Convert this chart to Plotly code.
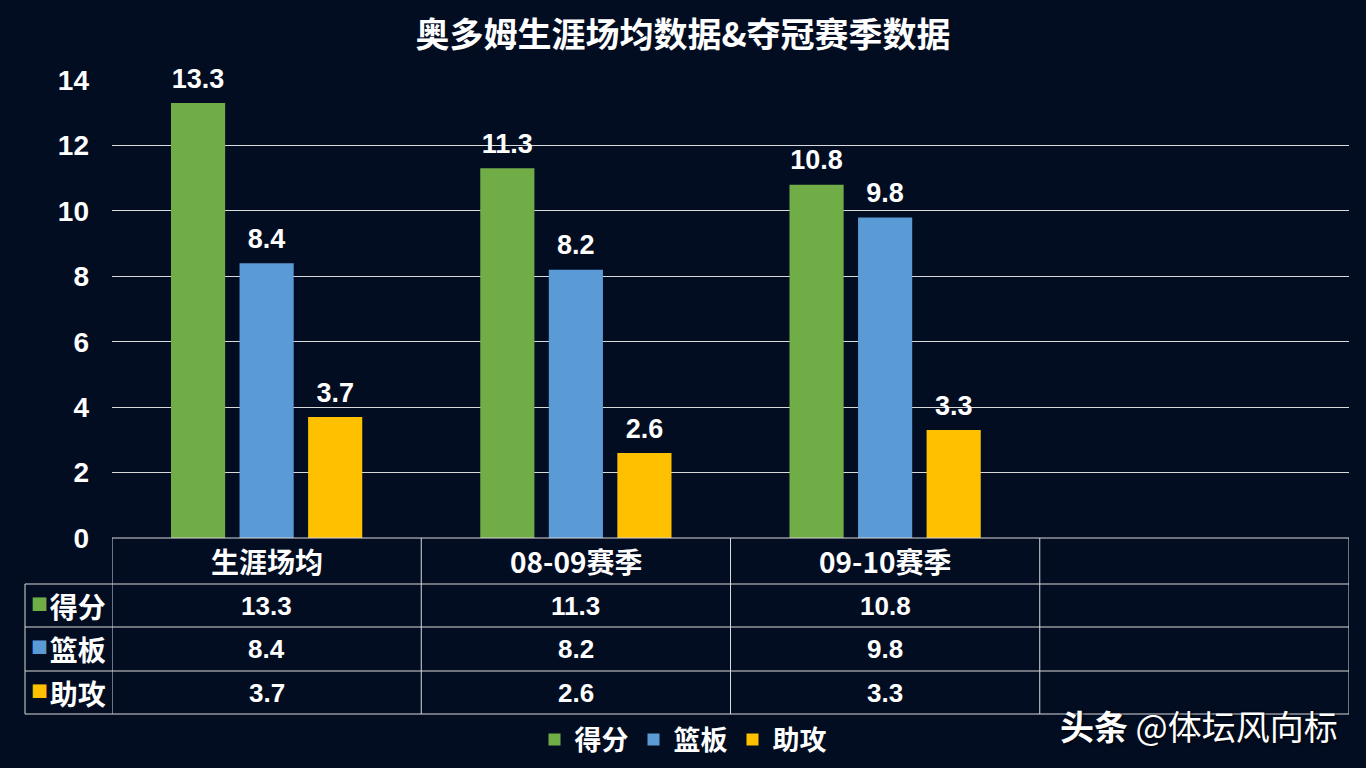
import plotly.graph_objects as go

categories = ["生涯场均", "08-09赛季", "09-10赛季"]
series_names = ["得分", "篮板", "助攻"]
points = [13.3, 11.3, 10.8]
rebounds = [8.4, 8.2, 9.8]
assists = [3.7, 2.6, 3.3]
series_values = [points, rebounds, assists]
colors = ["#70ad47", "#5b9bd5", "#ffc000"]
y_ticks = [0, 2, 4, 6, 8, 10, 12, 14]

title = "奥多姆生涯场均数据&夺冠赛季数据"
watermark = "<b>头条</b> @体坛风向标"

BG = "#020d22"
LINE = "#d9d9d9"
FONT = "Liberation Sans, Arial, Noto Sans CJK SC, sans-serif"
CJK = "Noto Sans CJK SC, Liberation Sans, sans-serif"

W, H = 1366, 768
M_L, M_R, M_T, M_B = 112, 17, 80, 230
plot_w = W - M_L - M_R
plot_h = H - M_T - M_B
BARGAP = 0.335


def py(pixel_y):
    return (H - M_B - pixel_y) / plot_h


def px(pixel_x):
    return (pixel_x - M_L) / plot_w


fig = go.Figure()
for k, (name, vals, col) in enumerate(zip(series_names, series_values, colors)):
    fig.add_trace(go.Bar(
        x=categories, y=vals, name=name,
        marker=dict(color=col, line=dict(width=0)),
        offsetgroup=str(k), alignmentgroup="g",
        hoverinfo="skip",
    ))
for k, (name, vals, col) in enumerate(zip(series_names, series_values, colors)):
    fig.add_trace(go.Scatter(
        x=categories, y=vals, mode="markers+text",
        text=[str(v) for v in vals], textposition="top center",
        textfont=dict(family=FONT, size=27, color="white", weight="bold"),
        marker=dict(size=12, opacity=0),
        offsetgroup=str(k), alignmentgroup="g",
        showlegend=False, cliponaxis=False, hoverinfo="skip",
    ))

# ---- data table under the plot ----
row_edges_px = [538, 584, 627, 671, 714]
row_edges = [py(p) for p in row_edges_px]
left_x = px(25)
n_cols = 4
col_edges = [i - 0.5 for i in range(n_cols + 1)]

shapes = []
line = dict(color=LINE, width=1)
shapes.append(dict(type="line", xref="paper", yref="paper", x0=0, x1=1,
                   y0=row_edges[0], y1=row_edges[0], line=line, layer="above"))
for yy in row_edges[1:]:
    shapes.append(dict(type="line", xref="paper", yref="paper", x0=left_x, x1=1,
                       y0=yy, y1=yy, line=line, layer="above"))
shapes.append(dict(type="line", xref="paper", yref="paper", x0=left_x, x1=left_x,
                   y0=row_edges[1], y1=row_edges[-1], line=line, layer="above"))
for xx in col_edges:
    shapes.append(dict(type="line", xref="x", yref="paper", x0=xx, x1=xx,
                       y0=row_edges[0], y1=row_edges[-1], line=line, layer="above"))

annotations = []
tfont = dict(family=CJK, size=28, color="white", weight="bold")
nfont = dict(family=FONT, size=26, color="white", weight="bold")
row_centers = [(row_edges[i] + row_edges[i + 1]) / 2 for i in range(4)]
for i, c in enumerate(categories):
    annotations.append(dict(xref="x", yref="paper", x=i, y=row_centers[0], text=c,
                            showarrow=False, font=tfont, xanchor="center", yanchor="middle"))
for r, (name, vals, col) in enumerate(zip(series_names, series_values, colors)):
    annotations.append(dict(
        xref="paper", yref="paper", x=(left_x + 0) / 2, y=row_centers[r + 1],
        text=(f"<span style='font-size:17px;color:{col};baseline-shift:7px'>■</span>"
              f"<span style='font-size:8px'> </span>{name}"),
        showarrow=False, font=tfont, xanchor="center", yanchor="middle"))
    for i, v in enumerate(vals):
        annotations.append(dict(xref="x", yref="paper", x=i, y=row_centers[r + 1], text=str(v),
                                showarrow=False, font=nfont, xanchor="center", yanchor="middle"))

annotations.append(dict(xref="paper", yref="paper", x=px(1340), y=py(725),
                        text=watermark, showarrow=False, xanchor="right", yanchor="middle",
                        font=dict(family=CJK, size=34, color="white",
                                  shadow="1px 1px 3px rgba(0,0,0,0.9)")))

fig.update_layout(
    width=W, height=H,
    margin=dict(l=M_L, r=M_R, t=M_T, b=M_B, pad=0),
    paper_bgcolor=BG, plot_bgcolor=BG,
    barmode="group", bargap=BARGAP, bargroupgap=0.21,
    scattermode="group", scattergap=BARGAP,
    title=dict(text=title, x=0.5, xref="container", xanchor="center",
               y=1 - 35 / H, yref="container", yanchor="middle",
               font=dict(family=CJK, size=34, color="white", weight="bold")),
    xaxis=dict(type="category", range=[-0.5, 3.5], showticklabels=False,
               showgrid=False, zeroline=False, showline=False, ticks=""),
    yaxis=dict(range=[0, 14], tickvals=y_ticks, showgrid=True, gridcolor=LINE, gridwidth=1,
               zeroline=False, showline=False, ticks="", ticklabelstandoff=22,
               tickfont=dict(family=FONT, size=28, color="white", weight="bold")),
    legend=dict(orientation="h", x=0.5, xref="container", xanchor="center",
                y=1 - 740 / H, yref="container", yanchor="middle",
                font=dict(family=CJK, size=27, color="white", weight="bold"),
                bgcolor="rgba(0,0,0,0)", itemclick=False, itemdoubleclick=False),
    shapes=shapes, annotations=annotations,
    hovermode=False,
)

fig.write_html("out.html", config={"displayModeBar": False})
